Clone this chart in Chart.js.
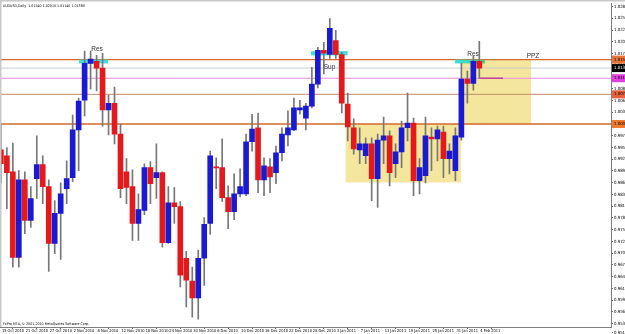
<!DOCTYPE html>
<html>
<head>
<meta charset="utf-8">
<script src="https://cdn.jsdelivr.net/npm/chart.js@4.4.1/dist/chart.umd.min.js"></script>
<style>
  html, body { margin: 0; padding: 0; background: #fff; }
  #wrap { width: 625px; height: 334px; position: relative; }
</style>
</head>
<body>
<div id="wrap"><canvas id="chart"></canvas></div>
<script>
// AUDUSD, Daily - 15 Oct 2010 .. 4 Feb 2011 (one bar per weekday)
const symbol = 'AUDUSD,Daily';

// date labels, one every 4 bars
const tickDates = ['15 Oct 2010', '21 Oct 2010', '27 Oct 2010', '2 Nov 2010', '8 Nov 2010',
  '12 Nov 2010', '18 Nov 2010', '24 Nov 2010', '30 Nov 2010', '6 Dec 2010', '10 Dec 2010',
  '16 Dec 2010', '22 Dec 2010', '28 Dec 2010', '3 Jan 2011', '7 Jan 2011', '13 Jan 2011',
  '19 Jan 2011', '25 Jan 2011', '31 Jan 2011', '4 Feb 2011'];

const opens = [
  0.9945, 0.9931, 0.9893, 0.9691, 0.9874, 0.9778, 0.9877, 0.9910, 0.9858, 0.9724,
  0.9795, 0.9853, 0.9879, 0.9992, 1.0062, 1.0149, 1.0154, 1.0138, 1.0039, 1.0055,
  0.9982, 0.9893, 0.9858, 0.9771, 0.9802, 0.9903, 0.9879, 0.9891, 0.9726, 0.9820,
  0.9811, 0.9689, 0.9635, 0.9595, 0.9689, 0.9771, 0.9905, 0.9903, 0.9832, 0.9799,
  0.9841, 0.9841, 0.9964, 0.9997, 0.9874, 0.9905, 0.9891, 0.9938, 0.9980, 0.9992,
  1.0039, 1.0020, 1.0048, 1.0100, 1.0180, 1.0170, 1.0203, 1.0170, 1.0053, 0.9997,
  0.9945, 0.9931, 0.9959, 0.9877, 0.9968, 0.9978, 0.9912, 0.9940, 0.9997, 1.0008,
  0.9872, 0.9884, 0.9975, 0.9971, 0.9987, 0.9924, 0.9896, 0.9975, 1.0112, 1.0102,
  1.0154];
const highs = [
  1.0006, 0.9950, 0.9961, 0.9896, 0.9893, 0.9858, 0.9978, 0.9931, 0.9874, 0.9825,
  0.9867, 0.9919, 1.0027, 1.0067, 1.0178, 1.0178, 1.0168, 1.0173, 1.0074, 1.0093,
  1.0006, 0.9924, 0.9898, 0.9841, 0.9912, 0.9917, 0.9959, 0.9893, 0.9858, 0.9856,
  0.9823, 0.9705, 0.9668, 0.9708, 0.9785, 0.9942, 0.9926, 0.9971, 0.9860, 0.9888,
  0.9900, 0.9982, 1.0029, 1.0032, 0.9926, 0.9924, 0.9954, 0.9997, 1.0037, 1.0067,
  1.0062, 1.0055, 1.0140, 1.0187, 1.0199, 1.0255, 1.0227, 1.0175, 1.0079, 1.0018,
  0.9997, 0.9973, 0.9973, 0.9982, 1.0022, 0.9990, 0.9959, 1.0013, 1.0079, 1.0020,
  0.9924, 1.0022, 0.9997, 1.0001, 1.0001, 0.9959, 0.9997, 1.0149, 1.0131, 1.0166,
  1.0201];
const lows = [
  0.9867, 0.9806, 0.9668, 0.9668, 0.9747, 0.9762, 0.9830, 0.9818, 0.9658, 0.9700,
  0.9686, 0.9818, 0.9870, 0.9896, 1.0025, 1.0088, 1.0084, 1.0001, 0.9980, 0.9959,
  0.9832, 0.9818, 0.9731, 0.9731, 0.9792, 0.9818, 0.9830, 0.9715, 0.9724, 0.9771,
  0.9621, 0.9574, 0.9550, 0.9545, 0.9625, 0.9745, 0.9853, 0.9823, 0.9759, 0.9780,
  0.9834, 0.9837, 0.9942, 0.9844, 0.9837, 0.9844, 0.9865, 0.9919, 0.9954, 0.9990,
  1.0029, 0.9992, 1.0044, 1.0091, 1.0124, 1.0161, 1.0161, 1.0032, 0.9966, 0.9935,
  0.9912, 0.9912, 0.9825, 0.9809, 0.9912, 0.9860, 0.9879, 0.9903, 0.9966, 0.9837,
  0.9841, 0.9867, 0.9896, 0.9919, 0.9879, 0.9888, 0.9872, 0.9968, 1.0055, 1.0086,
  1.0114];
const closes = [
  0.9912, 0.9891, 0.9691, 0.9874, 0.9778, 0.9830, 0.9910, 0.9858, 0.9724, 0.9795,
  0.9841, 0.9877, 0.9992, 1.0060, 1.0149, 1.0159, 1.0138, 1.0039, 1.0055, 0.9982,
  0.9853, 0.9856, 0.9771, 0.9804, 0.9903, 0.9865, 0.9891, 0.9726, 0.9820, 0.9811,
  0.9649, 0.9637, 0.9595, 0.9689, 0.9769, 0.9931, 0.9902, 0.9832, 0.9799, 0.9841,
  0.9858, 0.9964, 0.9994, 0.9874, 0.9907, 0.9881, 0.9938, 0.9982, 0.9997, 1.0044,
  1.0044, 1.0048, 1.0100, 1.0180, 1.0173, 1.0232, 1.0170, 1.0055, 0.9999, 0.9947,
  0.9959, 0.9959, 0.9877, 0.9968, 0.9978, 0.9891, 0.9940, 0.9997, 1.0008, 0.9872,
  0.9903, 0.9978, 0.9971, 0.9992, 0.9924, 0.9942, 0.9978, 1.0112, 1.0102, 1.0154,
  1.0138];

// price scale labels (MT4 style, uneven values)
const priceTicks = [1.02832, 1.02555, 1.02277, 1.02000, 1.01723, 1.01446, 1.01168, 1.00891,
  1.00614, 1.00336, 1.00059, 0.99782, 0.99505, 0.99227, 0.98950, 0.98673, 0.98395, 0.98118,
  0.97841, 0.97563, 0.97286, 0.97009, 0.96731, 0.96454, 0.96177, 0.95900, 0.95622, 0.95345,
  0.95125];

// horizontal levels drawn on the chart
const levels = [1.0158, 1.0138, 1.0114, 1.0076, 1.0006];
// zones: [fromBar, toBar, high, low]
const zones = [[57.65, 76.94, 1.0006, 0.9868], [76.94, 88.65, 1.0158, 1.0005]];
// cyan markers: [fromBar, toBar, high, low]
const marks = [[13.06, 17.91, 1.0158, 1.0149], [51.86, 57.99, 1.0178, 1.0168], [75.94, 80.95, 1.0158, 1.0149]];
// text labels: [bar, price, text]
const notes = [[16.07, 1.0182, 'Res'], [54.95, 1.0141, 'Sup'], [78.95, 1.0171, 'Res'], [88.98, 1.0166, 'PPZ']];
// short magenta segment
const segment = [79.95, 83.96, 1.0114];

const bodies = opens.map((o, i) => ({ x: i, y: [o, closes[i]] }));
const wicks = lows.map((l, i) => ({ x: i, y: [l, highs[i]] }));
const bodyColors = opens.map((o, i) => closes[i] >= o ? '#1a1ad2' : '#e3191c');

const levelStyle = [
  { color: '#d36a2c', w: 1.4, tag: '#e8743a', text: '#000' },
  { color: '#c6ccd6', w: 1, tag: '#000000', text: '#fff' },
  { color: '#e48ae4', w: 1, tag: '#e040e0', text: '#000' },
  { color: '#c38c6c', w: 1, tag: '#e86040', text: '#000' },
  { color: '#d8692a', w: 1.4, tag: '#f07a30', text: '#000' }
];

const narrow = '"Liberation Sans Narrow", "DejaVu Sans Condensed", Arial, sans-serif';
const tinyFont = '4.3px ' + narrow;

const overlay = {
  id: 'overlay',
  beforeDatasetsDraw(chart) {
    const { ctx, chartArea: a, scales: { x, y } } = chart;
    ctx.save();
    ctx.beginPath();
    ctx.rect(a.left, a.top, a.right - a.left, a.bottom - a.top);
    ctx.clip();

    zones.forEach(z => {
      const x0 = x.getPixelForValue(z[0]), x1 = x.getPixelForValue(z[1]);
      const y0 = y.getPixelForValue(z[2]), y1 = y.getPixelForValue(z[3]);
      ctx.fillStyle = '#f4e69c';
      ctx.fillRect(x0, y0, x1 - x0, y1 - y0);
    });

    levels.forEach((p, i) => {
      const yy = y.getPixelForValue(p);
      ctx.strokeStyle = levelStyle[i].color;
      ctx.lineWidth = levelStyle[i].w;
      ctx.beginPath();
      ctx.moveTo(a.left, yy);
      ctx.lineTo(a.right, yy);
      ctx.stroke();
    });

    marks.forEach((m, i) => {
      const x0 = x.getPixelForValue(m[0]), x1 = x.getPixelForValue(m[1]);
      const y0 = y.getPixelForValue(m[2]), y1 = y.getPixelForValue(m[3]);
      if (i === 2) {
        const g = ctx.createLinearGradient(x0, 0, x1, 0);
        g.addColorStop(0, '#3fdede');
        g.addColorStop(1, '#4cc87a');
        ctx.fillStyle = g;
      } else {
        ctx.fillStyle = '#3fdede';
      }
      ctx.fillRect(x0, y0, x1 - x0, y1 - y0);
    });

    const sy = y.getPixelForValue(segment[2]);
    ctx.strokeStyle = '#c2409e';
    ctx.lineWidth = 1.5;
    ctx.beginPath();
    ctx.moveTo(x.getPixelForValue(segment[0]), sy);
    ctx.lineTo(x.getPixelForValue(segment[1]), sy);
    ctx.stroke();
    ctx.restore();
  },
  afterDatasetsDraw(chart) {
    const { ctx, scales: { x, y } } = chart;
    ctx.save();
    ctx.font = '6.5px "Liberation Sans", Arial, sans-serif';
    ctx.fillStyle = '#333';
    ctx.textAlign = 'center';
    ctx.textBaseline = 'middle';
    notes.forEach(n => ctx.fillText(n[2], x.getPixelForValue(n[0]), y.getPixelForValue(n[1])));
    ctx.restore();
  },
  afterDraw(chart) {
    const { ctx, chartArea: a, scales: { y } } = chart;
    ctx.save();
    // window frame
    ctx.fillStyle = '#c8c8c8';
    ctx.fillRect(0, 0, chart.width, 1.5);
    ctx.fillRect(0, 0, 1.5, a.bottom);

    // coloured price tags on the axis
    ctx.font = tinyFont;
    ctx.textBaseline = 'middle';
    ctx.textAlign = 'left';
    levels.forEach((p, i) => {
      const yy = y.getPixelForValue(p);
      ctx.fillStyle = levelStyle[i].tag;
      ctx.fillRect(a.right + 1, yy - 4, chart.width - a.right, 8);
      ctx.fillStyle = levelStyle[i].text;
      ctx.fillText(p.toFixed(5), a.right + 3, yy);
    });

    ctx.fillStyle = '#000';
    ctx.font = '3.6px ' + narrow;
    const last = opens.length - 1;
    ctx.fillText(symbol + '  ' + [opens[last], highs[last], lows[last], closes[last]].map(v => v.toFixed(5)).join(' '), 3, 6);
    ctx.fillText('FxPro MT4, \u00A9 2001-2010 MetaQuotes Software Corp.', 3, a.bottom - 3);
    ctx.restore();
  }
};

new Chart(document.getElementById('chart'), {
  type: 'bar',
  data: {
    datasets: [
      { label: 'body', data: bodies, backgroundColor: bodyColors, barThickness: 5, minBarLength: 1, grouped: false, order: 0 },
      { label: 'wick', data: wicks, backgroundColor: '#777777', barThickness: 1, grouped: false, order: 1 }
    ]
  },
  options: {
    responsive: true,
    maintainAspectRatio: false,
    animation: false,
    layout: { padding: { top: 2, left: 0, right: 0, bottom: 0 } },
    plugins: { legend: { display: false }, tooltip: { enabled: false } },
    scales: {
      x: {
        type: 'linear',
        offset: false,
        min: -0.15,
        max: 102.02,
        afterFit(scale) { scale.height = 7; },
        afterBuildTicks(scale) { scale.ticks = tickDates.map((d, i) => ({ value: i * 4 })); },
        grid: { drawOnChartArea: false, drawTicks: true, tickLength: 2, color: '#606060' },
        border: { display: true, color: '#808080' },
        ticks: {
          autoSkip: false, maxRotation: 0, align: 'start', padding: 0, labelOffset: 1,
          color: '#000', font: { size: 4, family: narrow },
          callback: (v, i) => tickDates[i]
        }
      },
      y: {
        position: 'right',
        min: 0.95266,
        max: 1.02903,
        afterFit(scale) { scale.width = 14; },
        afterBuildTicks(scale) { scale.ticks = priceTicks.map(v => ({ value: v })); },
        grid: { drawOnChartArea: false, drawTicks: true, tickLength: 2, color: '#606060' },
        border: { display: true, color: '#808080' },
        ticks: {
          autoSkip: false, padding: 1, crossAlign: 'near',
          color: '#000', font: { size: 4.3, family: narrow },
          callback: v => v.toFixed(5)
        }
      }
    }
  },
  plugins: [overlay]
});
</script>
</body>
</html>
